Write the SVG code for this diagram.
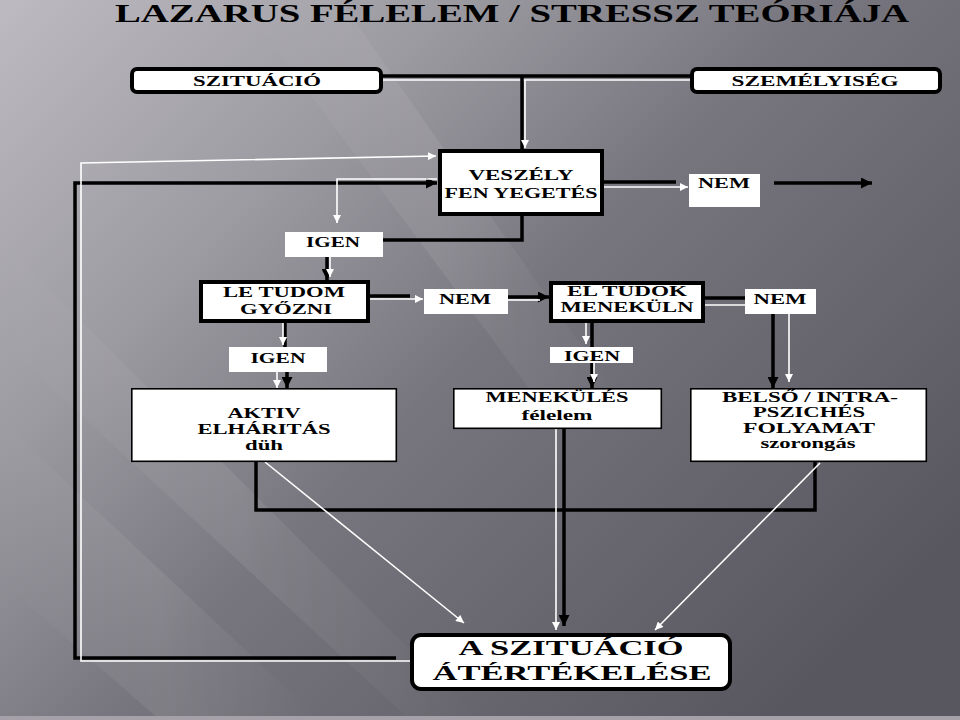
<svg xmlns="http://www.w3.org/2000/svg" width="960" height="720" viewBox="0 0 960 720">
<defs>
<linearGradient id="bg" x1="0" y1="0" x2="1" y2="0.75">
<stop offset="0" stop-color="#bdbbc1"/>
<stop offset="0.3" stop-color="#9d9ba2"/>
<stop offset="0.55" stop-color="#77757d"/>
<stop offset="1" stop-color="#58565e"/>
</linearGradient>
<linearGradient id="st" x1="0" y1="0" x2="1" y2="0">
<stop offset="0" stop-color="#fff" stop-opacity="0"/>
<stop offset="0.5" stop-color="#fff" stop-opacity="0.08"/>
<stop offset="1" stop-color="#fff" stop-opacity="0"/>
</linearGradient>
<marker id="wa" viewBox="0 0 10 10" refX="10" refY="5" markerWidth="9" markerHeight="8" markerUnits="userSpaceOnUse" orient="auto"><path d="M0,0 L10,5 L0,10 z" fill="#fff"/></marker>
<marker id="ba" viewBox="0 0 10 10" refX="10" refY="5" markerWidth="11" markerHeight="11" markerUnits="userSpaceOnUse" orient="auto"><path d="M0,0 L10,5 L0,10 z" fill="#000"/></marker>
</defs>
<style>
text{font-family:"Liberation Serif","Times New Roman",serif;font-weight:bold;fill:#000;text-anchor:middle}
.t{font-size:15px}
.big{font-size:22px}
.rb{fill:#fff;stroke:#000;stroke-width:4}
.tb{fill:#fff;stroke:#000;stroke-width:4}
.nb{fill:#fff;stroke:#000;stroke-width:1.6}
.lb{fill:#fff;stroke:none}
.k{fill:none;stroke:#000;stroke-width:3.5}
.w{fill:none;stroke:#fff;stroke-width:1.6}
</style>
<rect x="0" y="0" width="960" height="720" fill="url(#bg)"/>
<polygon points="0,420 0,580 160,720 320,720" fill="url(#st)"/>
<polygon points="0,240 0,340 410,720 480,720" fill="url(#st)"/>
<polygon points="240,0 340,0 640,430 560,430" fill="url(#st)"/>
<rect x="0" y="716" width="960" height="4" fill="#a4a2a8"/>

<text x="512" y="22" font-size="26" textLength="794" lengthAdjust="spacingAndGlyphs">LAZARUS FÉLELEM / STRESSZ TEÓRIÁJA</text>

<g id="connectors">
<path class="k" d="M382,76 H690"/>
<path class="w" d="M382,80 H690"/>
<path class="k" d="M522,76 V149"/>
<path class="w" d="M525,80 V148" marker-end="url(#wa)"/>
<path class="k" d="M604,182 H676" stroke-width="4.5"/>
<path class="w" d="M604,187 H688" marker-end="url(#wa)"/>
<path class="k" d="M774,183 H872" stroke-width="2.5" marker-end="url(#ba)"/>
<path class="k" d="M522,216 V240 H383"/>
<path class="k" d="M396,658 H75 V183 H437" marker-end="url(#ba)"/>
<path class="w" d="M411,661 H81 V163 L436,156" marker-end="url(#wa)"/>
<path class="w" d="M437,179 H337 V223" marker-end="url(#wa)"/>
<path class="k" d="M327,257 V280" marker-end="url(#ba)"/>
<path class="w" d="M330,257 V277" marker-end="url(#wa)"/>
<path class="k" d="M370,296 H410"/>
<path class="w" d="M370,299 H423" marker-end="url(#wa)"/>
<path class="k" d="M285,323 V347"/>
<path class="w" d="M283,323 V345" marker-end="url(#wa)"/>
<path class="k" d="M287,372 V388" marker-end="url(#ba)"/>
<path class="w" d="M277,372 V388" marker-end="url(#wa)"/>
<path class="k" d="M508,297 H549" stroke-width="2.5" marker-end="url(#ba)"/>
<path class="w" d="M508,300 H540"/>
<path class="k" d="M705,298 H750" stroke-width="5"/>
<path class="w" d="M705,305 H745" stroke="#e6e6e6" stroke-width="2.5"/>
<path class="k" d="M592,323 V347"/>
<path class="w" d="M586,323 V344" marker-end="url(#wa)"/>
<path class="k" d="M592,363 V388" marker-end="url(#ba)"/>
<path class="w" d="M594,363 V382" marker-end="url(#wa)"/>
<path class="k" d="M773,305 V388" stroke-width="4" marker-end="url(#ba)"/>
<path class="w" d="M789,314 V382" marker-end="url(#wa)"/>
<path class="k" d="M256,462 V510 H815 V462" stroke-width="4"/>
<path class="k" d="M564,429 V626" stroke-width="4" marker-end="url(#ba)"/>
<path class="w" d="M556,429 V630" marker-end="url(#wa)"/>
<path class="w" d="M265,462 L464,623" marker-end="url(#wa)"/>
<path class="w" d="M820,463 L655,630" marker-end="url(#wa)"/>
</g>

<g id="szituacio">
<rect class="rb" x="132" y="69" width="249" height="23" rx="5"/>
<text class="t" x="257" y="86" textLength="128" lengthAdjust="spacingAndGlyphs">SZITUÁCIÓ</text>
</g>
<g id="szemelyiseg">
<rect class="rb" x="692" y="69" width="248" height="23" rx="5"/>
<text class="t" x="815" y="86" textLength="167" lengthAdjust="spacingAndGlyphs">SZEMÉLYISÉG</text>
</g>
<g id="veszely">
<rect class="tb" x="440" y="151" width="162" height="63"/>
<text class="t" x="521" y="180" textLength="105" lengthAdjust="spacingAndGlyphs">VESZÉLY</text>
<text class="t" x="521" y="198" textLength="153" lengthAdjust="spacingAndGlyphs">FEN YEGETÉS</text>
</g>
<g id="nem-top">
<rect class="lb" x="689" y="174" width="71" height="33"/>
<text class="t" x="724" y="188" textLength="52" lengthAdjust="spacingAndGlyphs">NEM</text>
</g>
<g id="igen-top">
<rect class="lb" x="285" y="232" width="98" height="25"/>
<text class="t" x="333" y="247" textLength="54" lengthAdjust="spacingAndGlyphs">IGEN</text>
</g>
<g id="le-tudom">
<rect class="tb" x="201" y="282" width="167" height="39"/>
<text class="t" x="284" y="297" textLength="122" lengthAdjust="spacingAndGlyphs">LE TUDOM</text>
<text class="t" x="286" y="314" textLength="92" lengthAdjust="spacingAndGlyphs">GYŐZNI</text>
</g>
<g id="nem-mid">
<rect class="lb" x="424" y="289" width="84" height="25"/>
<text class="t" x="465" y="304" textLength="52" lengthAdjust="spacingAndGlyphs">NEM</text>
</g>
<g id="el-tudok">
<rect class="tb" x="551" y="283" width="152" height="38"/>
<text class="t" x="627" y="296" textLength="120" lengthAdjust="spacingAndGlyphs">EL TUDOK</text>
<text class="t" x="627" y="312" textLength="133" lengthAdjust="spacingAndGlyphs">MENEKÜLN</text>
</g>
<g id="nem-right">
<rect class="lb" x="745" y="289" width="71" height="25"/>
<text class="t" x="780" y="304" textLength="53" lengthAdjust="spacingAndGlyphs">NEM</text>
</g>
<g id="igen-left">
<rect class="lb" x="229" y="347" width="98" height="25"/>
<text class="t" x="278" y="363" textLength="55" lengthAdjust="spacingAndGlyphs">IGEN</text>
</g>
<g id="igen-mid">
<rect class="lb" x="550" y="347" width="83" height="16"/>
<text class="t" x="592" y="361" textLength="56" lengthAdjust="spacingAndGlyphs">IGEN</text>
</g>
<g id="aktiv">
<rect class="nb" x="131.8" y="388.8" width="264.5" height="72.5"/>
<text class="t" x="264" y="418" textLength="73" lengthAdjust="spacingAndGlyphs">AKTIV</text>
<text class="t" x="264" y="434" textLength="133" lengthAdjust="spacingAndGlyphs">ELHÁRITÁS</text>
<text class="t" x="264" y="450" textLength="38" lengthAdjust="spacingAndGlyphs">düh</text>
</g>
<g id="menekules">
<rect class="nb" x="453.8" y="388.8" width="207.5" height="39.5"/>
<text class="t" x="557" y="402" textLength="143" lengthAdjust="spacingAndGlyphs">MENEKÜLÉS</text>
<text class="t" x="557" y="420" textLength="71" lengthAdjust="spacingAndGlyphs">félelem</text>
</g>
<g id="belso">
<rect class="nb" x="690.8" y="388.8" width="235.5" height="72.5"/>
<text class="t" x="810" y="402" textLength="176" lengthAdjust="spacingAndGlyphs">BELSŐ / INTRA-</text>
<text class="t" x="809" y="417" textLength="112" lengthAdjust="spacingAndGlyphs">PSZICHÉS</text>
<text class="t" x="809" y="433" textLength="132" lengthAdjust="spacingAndGlyphs">FOLYAMAT</text>
<text class="t" x="808" y="448" textLength="95" lengthAdjust="spacingAndGlyphs">szorongás</text>
</g>
<g id="atertekeles">
<rect class="rb" x="412" y="635" width="318" height="54" rx="9"/>
<text class="big" x="571" y="655" textLength="225" lengthAdjust="spacingAndGlyphs">A SZITUÁCIÓ</text>
<text class="big" x="572" y="680" textLength="279" lengthAdjust="spacingAndGlyphs">ÁTÉRTÉKELÉSE</text>
</g>
</svg>
